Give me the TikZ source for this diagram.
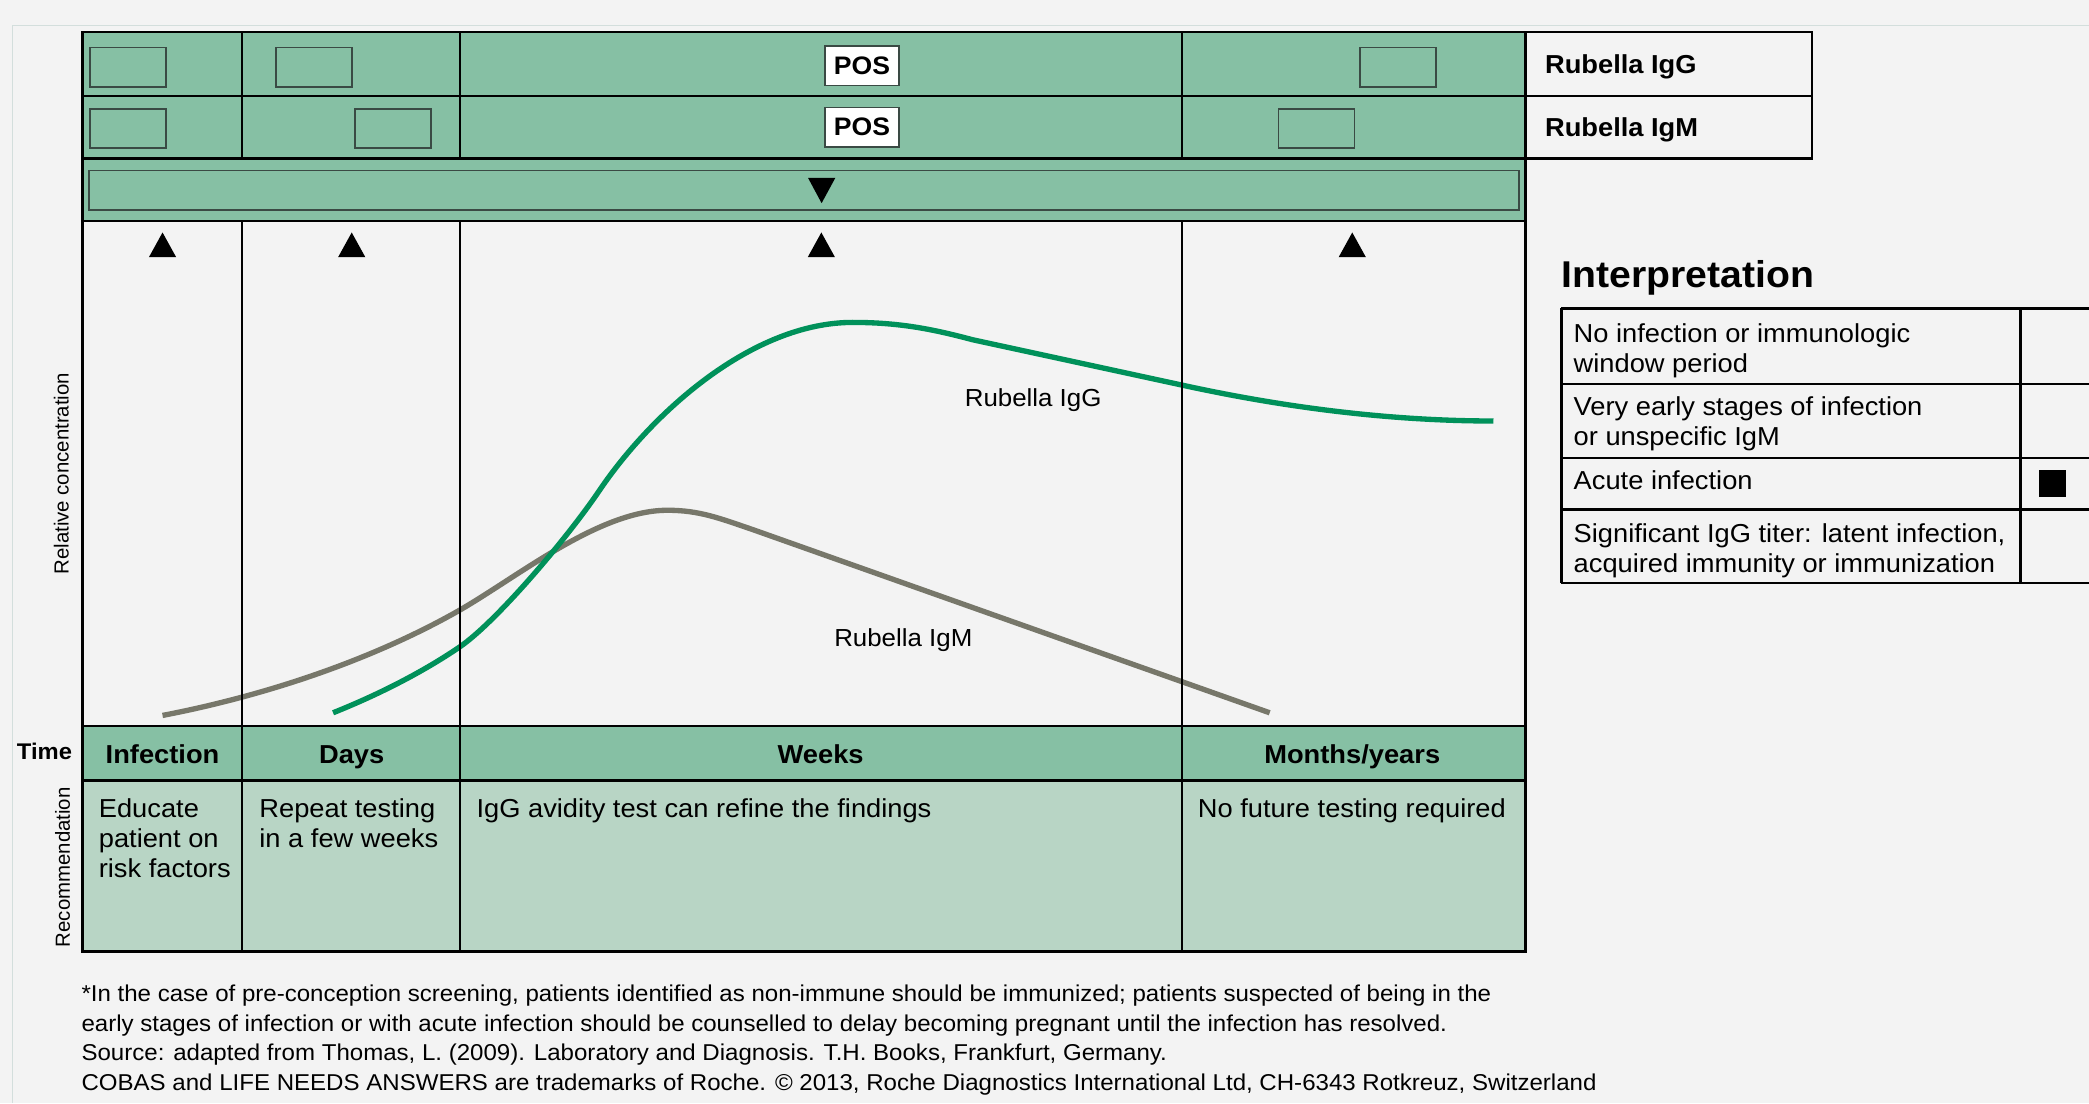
\documentclass[tikz,border=0pt]{standalone}
\usepackage{fontspec}
\setmainfont{Liberation Sans}[FakeStretch=1.05]
\newfontfamily\plainsans{Liberation Sans}
\definecolor{bgc}{HTML}{F3F3F3}
\definecolor{framec}{HTML}{D3DEDC}
\definecolor{hdr}{HTML}{86C0A4}
\definecolor{recc}{HTML}{B8D5C5}
\definecolor{boxline}{HTML}{3A4A44}
\definecolor{iggc}{HTML}{00915A}
\definecolor{igmc}{HTML}{77776A}
\begin{document}
\begin{tikzpicture}[x=1bp,y=-1bp,
  gridline/.style={line width=2bp, black},
  divline/.style={line width=1.5bp, black},
  smallbox/.style={draw=boxline, line width=1.3bp, fill=hdr, minimum width=57bp, minimum height=29.5bp, inner sep=0, anchor=north west},
  posbox/.style={draw=boxline, line width=1.3bp, fill=white, minimum width=56bp, minimum height=29.5bp, inner sep=0, font=\bfseries\fontsize{19bp}{22bp}\selectfont},
  body/.style={font=\fontsize{19.5bp}{22.7bp}\selectfont, inner sep=0, align=left, anchor=north west},
  hd/.style={font=\bfseries\fontsize{19.5bp}{22bp}\selectfont, inner sep=0, anchor=base},
  curvelbl/.style={font=\fontsize{18.5bp}{22bp}\selectfont, inner sep=0, anchor=base west},
  rotlbl/.style={font=\plainsans\fontsize{15.3bp}{18bp}\selectfont, inner sep=0, rotate=90},
  foot/.style={font=\fontsize{17.2bp}{22.3bp}\selectfont, inner sep=0, align=left, anchor=north west},
  tri/.style={fill=black},
  curve/.style={line width=4bp}
]
\useasboundingbox (0,0) rectangle (1568,828);
\fill[bgc] (0,0) rectangle (1568,828);
\draw[framec, line width=1bp] (9.5,828) -- (9.5,19) -- (1568,19);

% fills
\fill[hdr] (62,24) rectangle (1145,166);
\fill[hdr] (62,545) rectangle (1145,586);
\fill[recc] (62,586) rectangle (1145,714);

% small result boxes
\node[smallbox] (g1) at (67,35) {};
\node[smallbox] (g2) at (206.5,35) {};
\node[smallbox] (g4) at (1020,35) {};
\node[smallbox] (m1) at (67,81) {};
\node[smallbox] (m2) at (266,81) {};
\node[smallbox] (m4) at (959,81) {};
\node[posbox] (gpos) at (647,49.5) {POS};
\node[posbox] (mpos) at (647,95.5) {POS};

% band
\draw[boxline, line width=1.3bp] (67,128) rectangle (1140,157.5);
\fill[tri] (606.5,133.5) -- (627,133.5) -- (616.7,152.5) -- cycle;

% up triangles
\foreach \xx in {122,264,616.5,1015}{
  \fill[tri] (\xx-10.2,193) -- (\xx+10.2,193) -- (\xx,174.5) -- cycle;
}

% curves
\draw[igmc, curve] (122,537) .. controls (200,522) and (280,495) .. (345,458)
  .. controls (390,432) and (450,383) .. (501,383)
  .. controls (525,383) and (540,389) .. (565,397.5)
  -- (953,535);
\draw[iggc, curve] (250,535) .. controls (285,521) and (318,504) .. (345,485.6)
  .. controls (372,467.2) and (425,405) .. (450,368)
  .. controls (490,309) and (565,242) .. (640,242)
  .. controls (675,242) and (700,247) .. (730,255)
  -- (887,289)
  .. controls (960,305) and (1040,316) .. (1121,316);
\node[curvelbl] (lg) at (724,305) {Rubella IgG};
\node[curvelbl] (lm) at (626,485.4) {Rubella IgM};

% grid lines
\draw[gridline] (62,72) -- (1145,72);
\draw[gridline] (62,119) -- (1145,119);
\draw[gridline] (62,166) -- (1145,166);
\draw[gridline] (62,545) -- (1145,545);
\draw[gridline] (62,586) -- (1145,586);
\foreach \xx in {182,345,887}{
  \draw[divline] (\xx,24) -- (\xx,119);
  \draw[divline] (\xx,166) -- (\xx,714);
}
\draw[gridline] (62,24) rectangle (1145,714);

% right label box
\draw[gridline, fill=bgc] (1145,24) rectangle (1360,119);
\draw[gridline] (1145,72) -- (1360,72);
\node[hd, anchor=base west] (rg) at (1159.5,55.5) {Rubella IgG};
\node[hd, anchor=base west] (rm) at (1159.5,102.6) {Rubella IgM};

% time row
\node[hd, font=\bfseries\fontsize{17bp}{20bp}\selectfont, anchor=base west] (time) at (12.5,570) {Time};
\node[hd] (t1) at (122,573) {Infection};
\node[hd] (t2) at (264,573) {Days};
\node[hd] (t3) at (616,573) {Weeks};
\node[hd] (t4) at (1015,573) {Months/years};

% recommendations
\node[body] (r1) at (74,599) {Educate\\patient on\\risk factors};
\node[body] (r2) at (194.5,599) {Repeat testing\\in a few weeks};
\node[body] (r3) at (357.5,599) {IgG avidity test can refine the findings};
\node[body] (r4) at (899,599) {No future testing required};

% rotated labels
\node[rotlbl] (yl) at (46,355.5) {Relative concentration};
\node[rotlbl] (rl) at (47,651) {Recommendation};

% interpretation
\node[font=\bfseries\fontsize{28bp}{32bp}\selectfont, inner sep=0, anchor=base west] (ititle) at (1172,216) {Interpretation};
\draw[line width=1.7bp] (1172,231.5) -- (1570,231.5);
\draw[line width=1.7bp] (1172,288) -- (1570,288);
\draw[line width=1.7bp] (1172,343.5) -- (1570,343.5);
\draw[line width=1.7bp] (1172,382.5) -- (1570,382.5);
\draw[line width=1.7bp] (1172,437.5) -- (1570,437.5);
\draw[line width=1.7bp] (1172,231.5) -- (1172,437.5);
\draw[line width=1.7bp] (1516.5,231.5) -- (1516.5,437.5);
\node[body] (i1) at (1181,242.5) {No infection or immunologic\\window period};
\node[body] (i2) at (1181,297.5) {Very early stages of infection\\or unspecific IgM};
\node[body] (i3) at (1181,353) {Acute infection};
\node[body] (i4) at (1181,393) {Significant IgG titer: latent infection,\\acquired immunity or immunization};
\fill[black] (1530.5,353) rectangle (1551,373);

% footnote
\node[foot] (fn) at (61,739) {*In the case of pre-conception screening, patients identified as non-immune should be immunized; patients suspected of being in the\\early stages of infection or with acute infection should be counselled to delay becoming pregnant until the infection has resolved.\\Source: adapted from Thomas, L. (2009). Laboratory and Diagnosis. T.H. Books, Frankfurt, Germany.\\COBAS and LIFE NEEDS ANSWERS are trademarks of Roche. \textcopyright{} 2013, Roche Diagnostics International Ltd, CH-6343 Rotkreuz, Switzerland};
\end{tikzpicture}
\end{document}
